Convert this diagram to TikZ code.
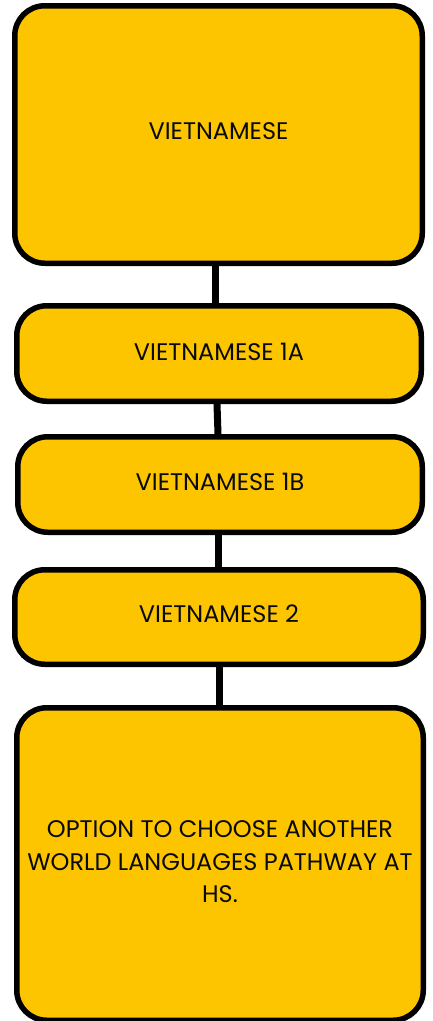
\documentclass[tikz,border=0pt]{standalone}
\usepackage{fontspec}
\setmainfont{Poppins}
\definecolor{boxfill}{RGB}{253,197,0}
\definecolor{ink}{RGB}{10,10,10}
\begin{document}
\begin{tikzpicture}[x=1pt,y=-1pt,
  stepbox/.style={draw=black,line width=5.5pt,fill=boxfill,rounded corners=30pt,
    inner sep=0pt,outer sep=0pt},
  label/.style={text=ink,align=center,inner sep=0pt,
    font=\fontsize{24}{32.5}\selectfont},
  link/.style={draw=black,line width=7pt}]
\useasboundingbox (0,0) rectangle (433,1021);
\node[stepbox,minimum width=407.5pt,minimum height=257.5pt] (b1) at (218.5,134.5) {};
\node[label] (t1) at (218.5,131.5) {VIETNAMESE};
\node[stepbox,minimum width=404.5pt,minimum height=95.5pt] (b2) at (219,353.5) {};
\node[label] (t2) at (219,352) {VIETNAMESE 1A};
\node[stepbox,minimum width=404.5pt,minimum height=95.5pt] (b3) at (220,484.5) {};
\node[label] (t3) at (220,481.5) {VIETNAMESE 1B};
\node[stepbox,minimum width=408.5pt,minimum height=94.5pt] (b4) at (219,617) {};
\node[label] (t4) at (219,614) {VIETNAMESE 2};
\node[stepbox,minimum width=406.5pt,minimum height=312.5pt] (b5) at (220,864) {};
\node[label] (t5) at (220,862) {OPTION TO CHOOSE ANOTHER\\WORLD LANGUAGES PATHWAY AT\\HS.};
\draw[link] ([xshift=-3pt,yshift=-2.75pt]b1.south) -- ([xshift=-3.5pt,yshift=2.75pt]b2.north);
\draw[link] ([xshift=-2pt,yshift=-2.75pt]b2.south) -- ([xshift=-2pt,yshift=2.75pt]b3.north);
\draw[link] ([xshift=-2pt,yshift=-2.75pt]b3.south) -- ([xshift=-1pt,yshift=2.75pt]b4.north);
\draw[link] ([xshift=0.5pt,yshift=-2.75pt]b4.south) -- ([xshift=-0.5pt,yshift=2.75pt]b5.north);
\end{tikzpicture}
\end{document}
